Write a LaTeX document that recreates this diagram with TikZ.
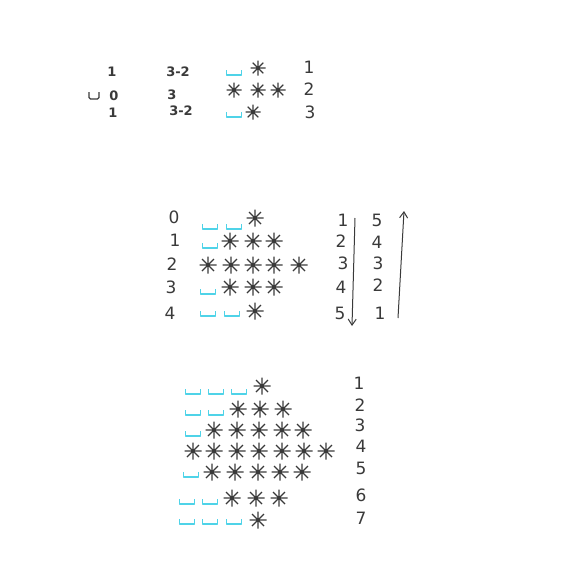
\documentclass[tikz,border=0pt]{standalone}
\usepackage{fontspec}
\setmainfont{DejaVu Sans}
\usetikzlibrary{arrows.meta}
\definecolor{ink}{HTML}{3A3A3A}
\definecolor{spc}{HTML}{4FD3E8}
\tikzset{
  x=1pt,y=-1pt,
  ast/.pic={\draw[ink,line width=1.3pt] (-8.5,0)--(8.5,0) (0,-8.5)--(0,8.5) (-6,-6)--(6,6) (-6,6)--(6,-6);},
  sast/.pic={\draw[ink,line width=1.2pt] (-7.5,0)--(7.5,0) (0,-7.5)--(0,7.5) (-5.3,-5.3)--(5.3,5.3) (-5.3,5.3)--(5.3,-5.3);},
  blank/.pic={\draw[spc,line width=1.4pt,line join=round] (-7.5,-3)--(-7.5,2)--(7.5,2)--(7.5,-3);},
  kblank/.pic={\draw[ink,line width=1.3pt,line join=round,rounded corners=1.5pt] (-5,-5)--(-5,2)--(5,2)--(5,-5);},
  num/.style={ink,font=\fontsize{17}{17}\selectfont,inner sep=0pt},
  snum/.style={ink,font=\fontsize{13}{13}\selectfont\bfseries,inner sep=0pt},
  arr/.style={ink,line width=1pt,-{Straight Barb[length=6pt,width=8pt]}}
}
\begin{document}
\begin{tikzpicture}
\useasboundingbox (0,0) rectangle (584,579);
% ---------- section 1 ----------
\node[snum] (a1) at (112,72) {1};
\pic at (94,97) {kblank};
\node[snum] (a2) at (114,96) {0};
\node[snum] (a3) at (113,113) {1};
\node[snum] (b1) at (178,72) {3-2};
\node[snum] (b2) at (172,95) {3};
\node[snum] (b3) at (181,111) {3-2};
\pic at (234,73) {blank};
\pic at (258,68) {sast};
\pic at (234,90) {sast};
\pic at (258,90) {sast};
\pic at (278,90) {sast};
\pic at (234,115) {blank};
\pic at (253,112) {sast};
\node[num] (c1) at (309,67) {1};
\node[num] (c2) at (309,89) {2};
\node[num] (c3) at (310,112) {3};
% ---------- section 2 ----------
\node[num] (d0) at (174,217) {0};
\node[num] (d1) at (175,240) {1};
\node[num] (d2) at (172,264) {2};
\node[num] (d3) at (171,287) {3};
\node[num] (d4) at (170,313) {4};
\pic at (210,227) {blank};
\pic at (234,227) {blank};
\pic at (255,218) {ast};
\pic at (210,246) {blank};
\pic at (230,241) {ast};
\pic at (253,241) {ast};
\pic at (274,241) {ast};
\pic at (208,265) {ast};
\pic at (231,265) {ast};
\pic at (253,265) {ast};
\pic at (274,265) {ast};
\pic at (299,265) {ast};
\pic at (208,292) {blank};
\pic at (230,287) {ast};
\pic at (253,287) {ast};
\pic at (274,287) {ast};
\pic at (208,314) {blank};
\pic at (232,314) {blank};
\pic at (255,311) {ast};
\node[num] (e1) at (343,220) {1};
\node[num] (e2) at (341,241) {2};
\node[num] (e3) at (343,263) {3};
\node[num] (e4) at (341,287) {4};
\node[num] (e5) at (340,313) {5};
\coordinate (ds) at (355,218);
\coordinate (de) at (352,326);
\draw[arr] (ds) -- (de);
\node[num] (f5) at (377,220) {5};
\node[num] (f4) at (377,242) {4};
\node[num] (f3) at (378,263) {3};
\node[num] (f2) at (378,285) {2};
\node[num] (f1) at (380,313) {1};
\coordinate (us) at (398,318);
\coordinate (ue) at (404,211);
\draw[arr] (us) -- (ue);
% ---------- section 3 ----------
\pic at (193,392) {blank};
\pic at (216,392) {blank};
\pic at (239,392) {blank};
\pic at (262,386) {ast};
\pic at (193,413) {blank};
\pic at (216,413) {blank};
\pic at (238,409) {ast};
\pic at (260,409) {ast};
\pic at (283,409) {ast};
\pic at (193,434) {blank};
\pic at (214,430) {ast};
\pic at (237,430) {ast};
\pic at (259,430) {ast};
\pic at (282,430) {ast};
\pic at (303,430) {ast};
\pic at (193,451) {ast};
\pic at (214,451) {ast};
\pic at (237,451) {ast};
\pic at (259,451) {ast};
\pic at (282,451) {ast};
\pic at (304,451) {ast};
\pic at (326,451) {ast};
\pic at (191,475) {blank};
\pic at (212,472) {ast};
\pic at (235,472) {ast};
\pic at (258,472) {ast};
\pic at (280,472) {ast};
\pic at (302,472) {ast};
\pic at (187,502) {blank};
\pic at (210,502) {blank};
\pic at (232,498) {ast};
\pic at (256,498) {ast};
\pic at (279,498) {ast};
\pic at (187,522) {blank};
\pic at (210,522) {blank};
\pic at (234,522) {blank};
\pic at (258,520) {ast};
\node[num] (g1) at (359,383) {1};
\node[num] (g2) at (360,405) {2};
\node[num] (g3) at (360,425) {3};
\node[num] (g4) at (361,446) {4};
\node[num] (g5) at (361,468) {5};
\node[num] (g6) at (361,495) {6};
\node[num] (g7) at (361,518) {7};
\end{tikzpicture}
\end{document}
